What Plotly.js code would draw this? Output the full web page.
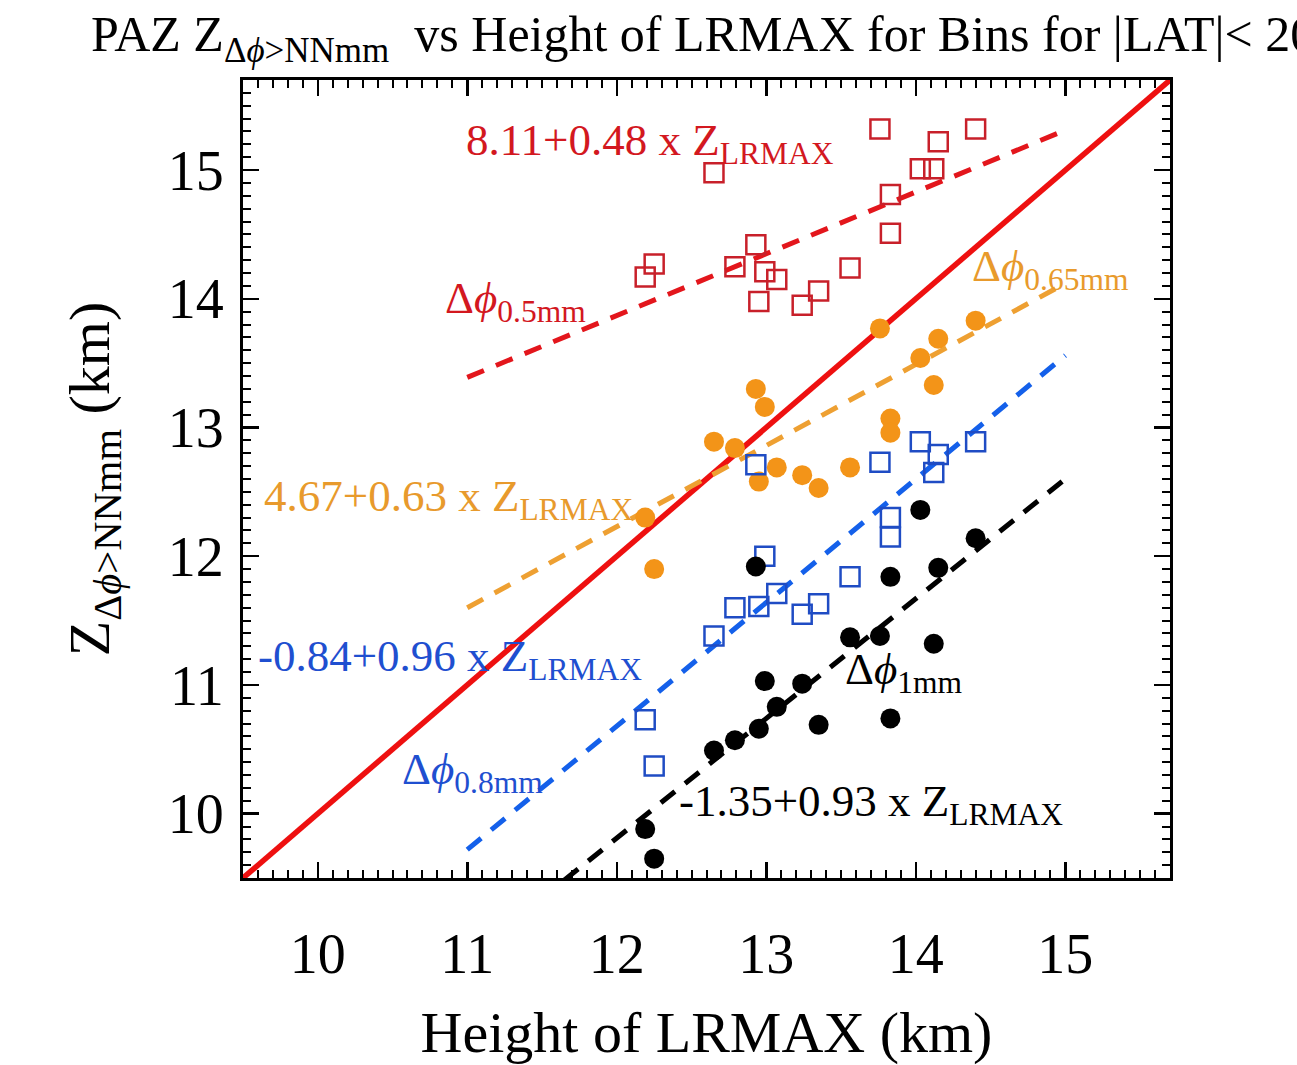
<!DOCTYPE html>
<html>
<head>
<meta charset="utf-8">
<script src="https://cdn.plot.ly/plotly-3.0.1.min.js"></script>
<style>
  html, body { margin: 0; padding: 0; background: #fff; }
  #chart { width: 1297px; height: 1065px; }
</style>
</head>
<body>
<div id="chart"></div>
<script>
// Height of LRMAX for each bin (km)
const lrmaxHeight = [12.19, 12.25, 12.65, 12.79, 12.93, 12.95, 12.99, 13.07, 13.24,
                     13.35, 13.56, 13.76, 13.83, 13.83, 14.03, 14.12, 14.15, 14.40];

// PAZ height where the differential phase exceeds each threshold (km)
const z05mm  = [14.17, 14.27, 14.98, 14.25, 14.42, 13.98, 14.21, 14.15, 13.95,
                14.06, 14.24, 15.32, 14.81, 14.51, 15.01, 15.01, 15.22, 15.32];
const z065mm = [12.30, 11.90, 12.89, 12.84, 13.30, 12.58, 13.16, 12.69, 12.63,
                12.53, 12.69, 13.77, 13.07, 12.96, 13.54, 13.33, 13.69, 13.83];
const z08mm  = [10.73, 10.37, 11.38, 11.60, 12.71, 11.61, 12.00, 11.71, 11.55,
                11.63, 11.84, 12.73, 12.30, 12.15, 12.89, 12.65, 12.79, 12.89];
const z1mm   = [ 9.88,  9.65, 10.49, 10.57, 11.92, 10.66, 11.03, 10.83, 11.01,
                10.69, 11.37, 11.38, 11.84, 10.74, 12.36, 11.32, 11.91, 12.14];

// Linear fits: Z = intercept + slope * Z_LRMAX, drawn over the fit range
const fitIntercept = [8.11, 4.67, -0.84, -1.35];
const fitSlope     = [0.48, 0.63,  0.96,  0.93];
const fitRange     = [11, 15];
const thresholdLabels = ['0.5mm', '0.65mm', '0.8mm', '1mm'];

// One-to-one reference line
const oneToOne = [9.5, 15.7];

const FONT = 'Liberation Serif, Times New Roman, serif';
const C = {
  sq05: '#c8202a', fit05: '#e3161c', txt05: '#d3181f',
  dot065: '#f39418', fit065: '#eea032', txt065: '#e89a2c',
  sq08: '#1f4cc4', fit08: '#1460ea', txt08: '#1f4fd0',
  dot1: '#000000', fit1: '#000000', txt1: '#000000',
  ref: '#ee1010'
};

function fitLine(i, color) {
  const xs = fitRange.slice();
  const ys = xs.map(v => fitIntercept[i] + fitSlope[i] * v);
  return {
    x: xs, y: ys, mode: 'lines', type: 'scatter', hoverinfo: 'skip',
    line: { color: color, width: 5, dash: '18px,13px' }
  };
}

const traces = [
  { x: oneToOne, y: oneToOne, mode: 'lines', type: 'scatter',
    line: { color: C.ref, width: 5.5 }, hoverinfo: 'skip' },
  fitLine(0, C.fit05),
  fitLine(1, C.fit065),
  fitLine(2, C.fit08),
  fitLine(3, C.fit1),
  { x: lrmaxHeight, y: z05mm, mode: 'markers', type: 'scatter', name: 'Δϕ 0.5mm',
    marker: { symbol: 'square-open', size: 19, color: C.sq05, line: { width: 2.5, color: C.sq05 } } },
  { x: lrmaxHeight, y: z065mm, mode: 'markers', type: 'scatter', name: 'Δϕ 0.65mm',
    marker: { symbol: 'circle', size: 20, color: C.dot065 } },
  { x: lrmaxHeight, y: z08mm, mode: 'markers', type: 'scatter', name: 'Δϕ 0.8mm',
    marker: { symbol: 'square-open', size: 19, color: C.sq08, line: { width: 2.5, color: C.sq08 } } },
  { x: lrmaxHeight, y: z1mm, mode: 'markers', type: 'scatter', name: 'Δϕ 1mm',
    marker: { symbol: 'circle', size: 20, color: C.dot1 } }
];

function eqText(i) {
  return fitIntercept[i].toFixed(2) + '+' + fitSlope[i].toFixed(2) + ' x Z<sub>LRMAX</sub>';
}
function phiText(i) {
  return 'Δ<i>ϕ</i><sub>' + thresholdLabels[i] + '</sub>';
}

function label(text, x, y, color) {
  return {
    text: text, x: x, y: y, xref: 'x', yref: 'y',
    xanchor: 'left', yanchor: 'middle', showarrow: false,
    font: { family: FONT, size: 45, color: color }
  };
}

const annotations = [
  label(eqText(0), 10.976, 15.21, C.txt05),
  label(phiText(0), 10.84, 13.98, C.txt05),
  label(phiText(1), 14.36, 14.23, C.txt065),
  label(eqText(1), 9.63, 12.445, C.txt065),
  label(eqText(2), 9.59, 11.20, C.txt08),
  label(phiText(2), 10.55, 10.32, C.txt08),
  label(phiText(3), 13.51, 11.10, C.txt1),
  label(eqText(3), 12.40, 10.075, C.txt1),
  {
    text: 'PAZ Z<sub>Δ<i>ϕ</i>&gt;NNmm</sub>  vs Height of LRMAX for Bins for |LAT|< 20°',
    xref: 'paper', yref: 'paper', x: -0.166, y: 1.053,
    xanchor: 'left', yanchor: 'middle', showarrow: false,
    font: { family: FONT, size: 50, color: '#000' }
  }
];

const axisCommon = {
  range: [9.5, 15.7],
  dtick: 1, tick0: 10,
  ticks: 'inside', ticklen: 16, tickwidth: 2.5, tickcolor: '#000',
  minor: { dtick: 0.1, ticks: 'inside', ticklen: 8, tickwidth: 2, tickcolor: '#000', showgrid: false },
  showline: true, linecolor: '#000', linewidth: 3, mirror: 'ticks',
  showgrid: false, zeroline: false,
  tickfont: { family: FONT, size: 56, color: '#000' }
};

const layout = {
  width: 1297, height: 1065,
  margin: { l: 243, r: 127, t: 80, b: 187 },
  paper_bgcolor: '#fff', plot_bgcolor: '#fff',
  showlegend: false,
  font: { family: FONT, color: '#000' },
  xaxis: Object.assign({}, axisCommon, {
    ticklabelstandoff: 25,
    title: { text: 'Height of LRMAX (km)', font: { family: FONT, size: 58, color: '#000' }, standoff: 40 }
  }),
  yaxis: Object.assign({}, axisCommon, {
    ticklabelstandoff: 5,
    title: { text: 'Z<sub>Δ<i>ϕ</i>&gt;NNmm</sub> (km)', font: { family: FONT, size: 58, color: '#000' }, standoff: 40 }
  }),
  annotations: annotations
};

Plotly.newPlot('chart', traces, layout, { staticPlot: true, displayModeBar: false });
</script>
</body>
</html>
